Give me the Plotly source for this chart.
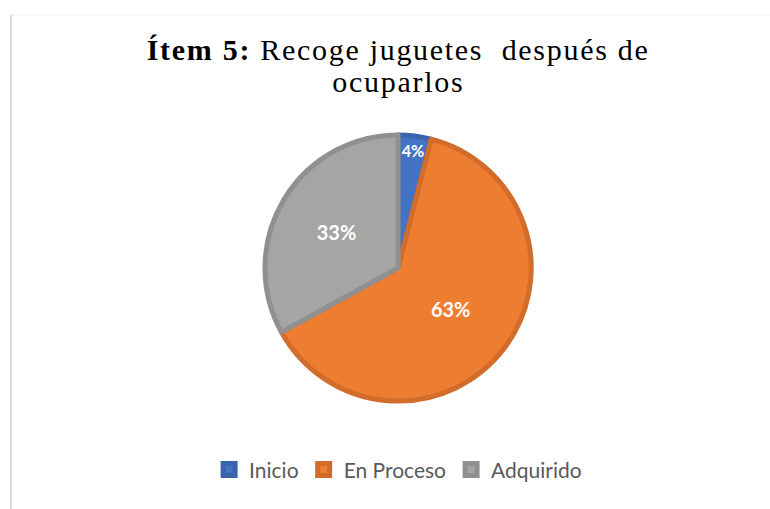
import plotly.graph_objects as go

labels = ["Inicio", "En Proceso", "Adquirido"]
values = [4, 63, 33]
text_labels = ["4%", "63%", "33%"]

fill_colors = ["#4472C4", "#ED7D31", "#A5A5A5"]
edge_colors = ["#3B63AC", "#D26C2A", "#909090"]

title_font = {"family": "Liberation Serif, Times New Roman, serif", "size": 30, "color": "black"}

fig = go.Figure(
    go.Pie(
        labels=labels,
        values=values,
        text=text_labels,
        textinfo="text",
        textposition="inside",
        insidetextorientation="horizontal",
        textfont={"family": "Lato, Open Sans, sans-serif", "size": 20, "color": "white", "weight": "bold"},
        sort=False,
        direction="clockwise",
        rotation=0,
        marker={"colors": fill_colors, "line": {"color": edge_colors, "width": 5}},
        domain={"x": [0.344, 0.690], "y": [0.212, 0.735]},
        hoverinfo="label+percent",
    )
)

fig.update_layout(
    width=770,
    height=509,
    margin={"l": 0, "r": 0, "t": 0, "b": 0},
    paper_bgcolor="white",
    plot_bgcolor="white",
    title={
        "text": "<b>Ítem 5:</b> Recoge juguetes  después de",
        "x": 0.517,
        "xanchor": "center",
        "y": 0.902,
        "yanchor": "middle",
        "font": title_font,
    },
    annotations=[
        {"text": "ocuparlos", "xref": "paper", "yref": "paper", "x": 0.518, "y": 0.840,
         "xanchor": "center", "yanchor": "middle", "showarrow": False, "font": title_font},
    ],
    legend={
        "orientation": "h",
        "x": 0.517,
        "xanchor": "center",
        "y": 0.077,
        "yanchor": "middle",
        "font": {"family": "Lato, Open Sans, sans-serif", "size": 21, "color": "#595959"},
        "itemwidth": 30,
    },
    shapes=[
        {"type": "line", "xref": "paper", "yref": "paper", "x0": 11 / 770, "x1": 11 / 770,
         "y0": 0, "y1": 1 - 15 / 509, "line": {"color": "#D9D9D9", "width": 2}},
        {"type": "line", "xref": "paper", "yref": "paper", "x0": 11 / 770, "x1": 1,
         "y0": 1 - 15 / 509, "y1": 1 - 15 / 509, "line": {"color": "#EEEEEE", "width": 1}},
    ],
)

# quita el margen del body y espacia las letras del título como en el original
post = (
    "document.body.style.margin='0';"
    "document.querySelectorAll('.gtitle, .annotation-text').forEach("
    "function(e){e.style.letterSpacing='1.7px';});"
)
fig.write_html("out.html", post_script=post, config={"displayModeBar": False})
